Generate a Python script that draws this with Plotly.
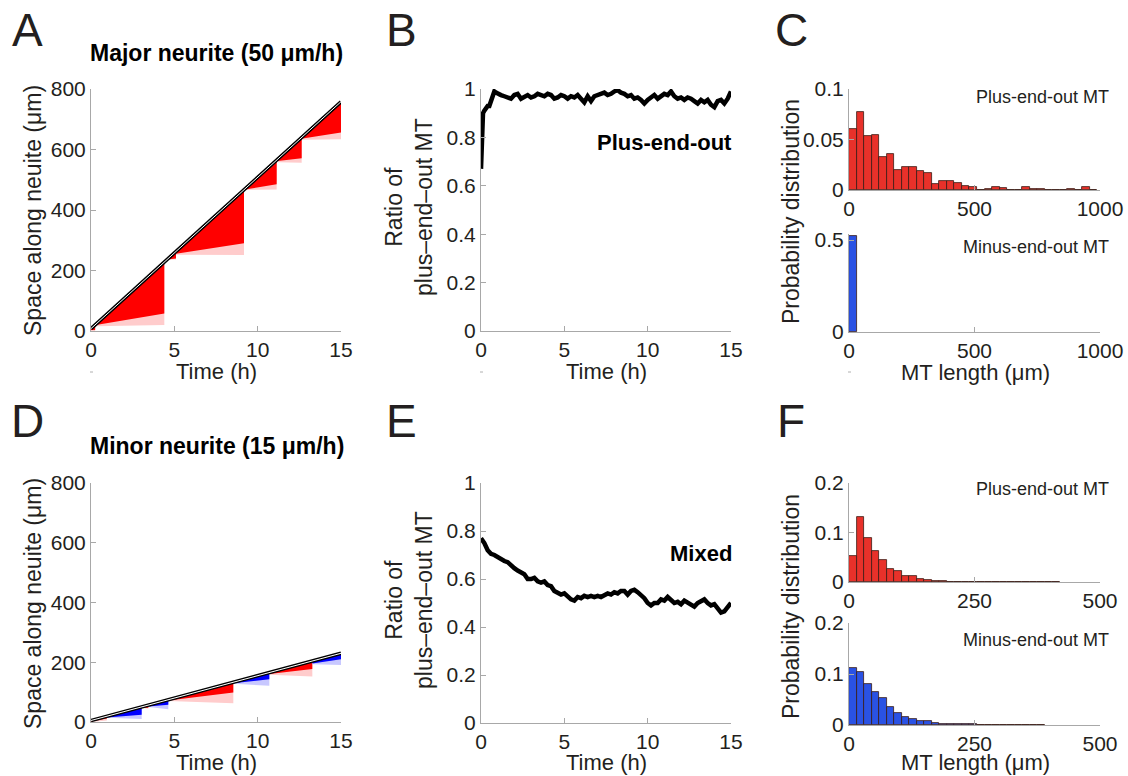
import plotly.graph_objects as go

# ---------------- data ----------------
# Panel A (major neurite): neurite tip line and MT segments
A_TIP_T = [0, 15]
A_TIP_Y = [8, 758]
A_SEG_T0 = [0.0, 0.3, 4.6, 5.1, 9.25, 11.2, 12.7]
A_SEG_T1 = [0.25, 4.4, 5.1, 9.18, 11.14, 12.64, 15.0]
A_SEG_TOP0 = [8, 23, 238, 263, 470, 568, 643]
A_SEG_TOP1 = [20, 228, 263, 467, 565, 640, 758]
A_SEG_DARK0 = [3, 20, 236, 255, 468, 562, 636]
A_SEG_DARK1 = [3, 58, 240, 290, 485, 571, 656]
A_SEG_LIGHT0 = [0, 16, 236, 252, 466, 558, 632]
A_SEG_LIGHT1 = [0, 20, 236, 251, 468, 556, 634]
A_SEG_KIND = ["plus", "plus", "plus", "plus", "plus", "plus", "plus"]

# Panel D (minor neurite)
D_TIP_T = [0, 15]
D_TIP_Y = [5, 230]
D_SEG_T0 = [0.0, 0.95, 3.04, 3.44, 4.64, 8.54, 10.7, 13.28]
D_SEG_T1 = [0.95, 3.04, 3.44, 4.64, 8.54, 10.7, 13.28, 15.0]
D_SEG_TOP0 = [5, 19, 51, 57, 75, 133, 166, 204]
D_SEG_TOP1 = [19, 51, 57, 75, 133, 166, 204, 230]
D_SEG_DARK0 = [2, 15, 48, 52, 72, 130, 161, 196]
D_SEG_DARK1 = [12, 24, 48, 58, 99, 143, 177, 210]
D_SEG_LIGHT0 = [0, 14, 47, 50, 70, 128, 158, 193]
D_SEG_LIGHT1 = [5, 10, 45, 43, 63, 121, 152, 191]
D_SEG_KIND = ["plus", "minus", "plus", "minus", "plus", "minus", "plus", "minus"]

# Panel B: ratio of plus-end-out MT (major neurite)
B_TIME = [0, 0.04, 0.08, 0.12, 0.2, 0.3, 0.4, 0.5, 0.6, 0.7, 0.8, 0.9, 1.0,
          1.2, 1.4, 1.6, 1.8, 2.0, 2.2, 2.4, 2.6, 2.8, 3.0, 3.2, 3.4, 3.6, 3.8,
          4.0, 4.2, 4.4, 4.6, 4.8, 5.0, 5.2, 5.4, 5.6, 5.8, 6.0, 6.2, 6.4, 6.6,
          6.8, 7.0, 7.2, 7.4, 7.6, 7.8, 8.0, 8.2, 8.4, 8.6, 8.8, 9.0, 9.2, 9.4,
          9.6, 9.8, 10.0, 10.2, 10.4, 10.6, 10.8, 11.0, 11.2, 11.4, 11.6, 11.8,
          12.0, 12.2, 12.4, 12.6, 12.8, 13.0, 13.2, 13.4, 13.6, 13.8, 14.0, 14.2,
          14.4, 14.6, 14.8, 15.0]
B_RATIO = [0.67, 0.72, 0.84, 0.90, 0.91, 0.92, 0.93, 0.93, 0.95, 0.975, 0.99, 0.985, 0.98,
           0.975, 0.97, 0.965, 0.96, 0.975, 0.98, 0.96, 0.97, 0.975, 0.965, 0.97, 0.98, 0.975, 0.97,
           0.98, 0.975, 0.96, 0.965, 0.975, 0.97, 0.96, 0.97, 0.965, 0.975, 0.96, 0.945, 0.97, 0.95,
           0.97, 0.975, 0.98, 0.985, 0.975, 0.98, 0.99, 0.995, 0.985, 0.98, 0.97, 0.975, 0.96, 0.965,
           0.955, 0.94, 0.955, 0.965, 0.975, 0.96, 0.97, 0.98, 0.975, 0.99, 0.97, 0.96,
           0.965, 0.955, 0.965, 0.96, 0.95, 0.94, 0.955, 0.945, 0.955, 0.935, 0.925, 0.95,
           0.955, 0.94, 0.96, 0.99]

# Panel E: ratio of plus-end-out MT (minor neurite)
E_TIME = [0.0, 0.2, 0.4, 0.6, 0.8, 1.0, 1.2, 1.4, 1.6, 1.8, 2.0, 2.2, 2.4, 2.6, 2.8,
          3.0, 3.2, 3.4, 3.6, 3.8, 4.0, 4.2, 4.4, 4.6, 4.8, 5.0, 5.2, 5.4, 5.6, 5.8,
          6.0, 6.2, 6.4, 6.6, 6.8, 7.0, 7.2, 7.4, 7.6, 7.8, 8.0, 8.2, 8.4, 8.6, 8.8,
          9.0, 9.2, 9.4, 9.6, 9.8, 10.0, 10.2, 10.4, 10.6, 10.8, 11.0, 11.2, 11.4, 11.6, 11.8,
          12.0, 12.2, 12.4, 12.6, 12.8, 13.0, 13.2, 13.4, 13.6, 13.8, 14.0, 14.2, 14.4, 14.6, 14.8,
          15.0]
E_RATIO = [0.77, 0.75, 0.72, 0.705, 0.70, 0.69, 0.68, 0.675, 0.67, 0.655, 0.645, 0.635, 0.625, 0.62, 0.60,
           0.60, 0.605, 0.59, 0.585, 0.59, 0.575, 0.57, 0.55, 0.54, 0.535, 0.54, 0.525, 0.515, 0.51, 0.525,
           0.52, 0.53, 0.525, 0.53, 0.525, 0.53, 0.525, 0.535, 0.54, 0.535, 0.545, 0.54, 0.55, 0.55, 0.535,
           0.55, 0.555, 0.545, 0.535, 0.52, 0.50, 0.49, 0.50, 0.50, 0.515, 0.51, 0.525, 0.51, 0.50, 0.505,
           0.495, 0.51, 0.50, 0.49, 0.485, 0.50, 0.51, 0.515, 0.50, 0.49, 0.495, 0.475, 0.46, 0.465, 0.48,
           0.50]

# Panel C histograms (major neurite), bin width 30 um
C_BIN_W = 30
C_PLUS = [0.0606, 0.0768, 0.053, 0.0543, 0.0325, 0.0358, 0.0199, 0.0228, 0.0228, 0.0189,
          0.0166, 0.0056, 0.0093, 0.0093, 0.0073, 0.004, 0.0026, 0, 0.001, 0.0026,
          0.0017, 0, 0, 0.0026, 0.0013, 0.0013, 0, 0, 0, 0.001, 0, 0.0026, 0]
C_MINUS = [0.52]

# Panel F histograms (minor neurite), bin width 15 um
F_BIN_W = 15
F_PLUS = [0.052, 0.132, 0.089, 0.062, 0.045, 0.026, 0.022, 0.013, 0.0115, 0.006,
          0.0034, 0.0014, 0.0014, 0.0007, 0.0007, 0.0005, 0.0005, 0.0003, 0.0003, 0.0003,
          0.0002, 0.0002, 0.0002, 0.0001, 0.0002, 0.0001, 0.0001, 0.0001]
F_MINUS = [0.111, 0.104, 0.080, 0.065, 0.052, 0.035, 0.023, 0.016, 0.012, 0.008,
           0.008, 0.003, 0.0026, 0.002, 0.002, 0.0013, 0.0013, 0.0008, 0.0005, 0.0004,
           0.0003, 0.0002, 0.0002, 0.0001, 0.0001, 0.0001]

# ---------------- style / layout ----------------
W, H = 1128, 776
FONT = "Liberation Sans, Arial, Helvetica, sans-serif"
TXT = "#231f20"
AXC = "#a8a8a8"
COL = {"plus": ("#ff0000", "#ffcccc"), "minus": ("#0000ff", "#c8c8ff")}
BAR_RED = "#e8312a"
BAR_BLUE = "#2a52e4"


def fx(p):
    return p / W


def fy(p):
    return 1 - p / H


def axis(dom, rng, tickvals, ticktext, anchor):
    return dict(domain=dom, range=rng, tickvals=tickvals, ticktext=ticktext, anchor=anchor,
                showline=True, linecolor=AXC, linewidth=1, ticks="inside", ticklen=5,
                tickwidth=1, tickcolor=AXC, showgrid=False, zeroline=False, fixedrange=True,
                automargin=False,
                tickfont=dict(family=FONT, size=21, color=TXT))


fig = go.Figure()

# domain pixel boxes: (x0, x1, ytop, ybottom)
boxes = {
    1: (91, 341, 89, 331),     # A
    2: (481, 731, 89, 331),    # B
    3: (849, 1100, 89, 190),   # C top
    4: (849, 1100, 234, 332),  # C bottom
    5: (91, 341, 483, 722),    # D
    6: (481, 731, 483, 723),   # E
    7: (849, 1100, 483, 582),  # F top
    8: (849, 1100, 623, 725),  # F bottom
}
specs = {
    1: ([0, 15], [0, 5, 10, 15], ["0", "5", "10", "15"], [0, 800], [0, 200, 400, 600, 800], ["0", "200", "400", "600", "800"]),
    2: ([0, 15], [0, 5, 10, 15], ["0", "5", "10", "15"], [0, 1], [0, 0.2, 0.4, 0.6, 0.8, 1], ["0", "0.2", "0.4", "0.6", "0.8", "1"]),
    3: ([0, 1000], [0, 500, 1000], ["0", "500", "1000"], [0, 0.1], [0, 0.05, 0.1], ["0", "0.05", "0.1"]),
    4: ([0, 1000], [0, 500, 1000], ["0", "500", "1000"], [0, 0.5326], [0, 0.5], ["0", "0.5"]),
    5: ([0, 15], [0, 5, 10, 15], ["0", "5", "10", "15"], [0, 800], [0, 200, 400, 600, 800], ["0", "200", "400", "600", "800"]),
    6: ([0, 15], [0, 5, 10, 15], ["0", "5", "10", "15"], [0, 1], [0, 0.2, 0.4, 0.6, 0.8, 1], ["0", "0.2", "0.4", "0.6", "0.8", "1"]),
    7: ([0, 500], [0, 250, 500], ["0", "250", "500"], [0, 0.2], [0, 0.1, 0.2], ["0", "0.1", "0.2"]),
    8: ([0, 500], [0, 250, 500], ["0", "250", "500"], [0, 0.2], [0, 0.1, 0.2], ["0", "0.1", "0.2"]),
}
layout_axes = {}
for i, (x0, x1, yt, yb) in boxes.items():
    xr, xtv, xtt, yr, ytv, ytt = specs[i]
    sfx = "" if i == 1 else str(i)
    layout_axes["xaxis" + sfx] = axis([fx(x0), fx(x1)], xr, xtv, xtt, "y" + sfx)
    layout_axes["yaxis" + sfx] = axis([fy(yb), fy(yt)], yr, ytv, ytt, "x" + sfx)


def neurite(n, tip_t, tip_y, t0s, t1s, top0, top1, d0, d1, l0, l1, kinds):
    xa = "x" if n == 1 else "x%d" % n
    ya = "y" if n == 1 else "y%d" % n
    for k in range(len(t0s)):
        dark, light = COL[kinds[k]]
        fig.add_trace(go.Scatter(x=[t0s[k], t1s[k], t1s[k], t0s[k], t0s[k]],
                                 y=[top0[k], top1[k], l1[k], l0[k], top0[k]],
                                 fill="toself", fillcolor=light, mode="none",
                                 xaxis=xa, yaxis=ya, hoverinfo="skip"))
        fig.add_trace(go.Scatter(x=[t0s[k], t1s[k], t1s[k], t0s[k], t0s[k]],
                                 y=[top0[k], top1[k], d1[k], d0[k], top0[k]],
                                 fill="toself", fillcolor=dark, mode="none",
                                 xaxis=xa, yaxis=ya, hoverinfo="skip"))
    fig.add_trace(go.Scatter(x=tip_t, y=tip_y, mode="lines", line=dict(color="black", width=3.6),
                             xaxis=xa, yaxis=ya, hoverinfo="skip", cliponaxis=False))
    fig.add_trace(go.Scatter(x=tip_t, y=tip_y, mode="lines", line=dict(color="white", width=1.0),
                             xaxis=xa, yaxis=ya, hoverinfo="skip", cliponaxis=False))


neurite(1, A_TIP_T, A_TIP_Y, A_SEG_T0, A_SEG_T1, A_SEG_TOP0, A_SEG_TOP1,
        A_SEG_DARK0, A_SEG_DARK1, A_SEG_LIGHT0, A_SEG_LIGHT1, A_SEG_KIND)
neurite(5, D_TIP_T, D_TIP_Y, D_SEG_T0, D_SEG_T1, D_SEG_TOP0, D_SEG_TOP1,
        D_SEG_DARK0, D_SEG_DARK1, D_SEG_LIGHT0, D_SEG_LIGHT1, D_SEG_KIND)

fig.add_trace(go.Scatter(x=B_TIME, y=B_RATIO, mode="lines", line=dict(color="black", width=4.5),
                         xaxis="x2", yaxis="y2", hoverinfo="skip"))
fig.add_trace(go.Scatter(x=E_TIME, y=E_RATIO, mode="lines", line=dict(color="black", width=4.5),
                         xaxis="x6", yaxis="y6", hoverinfo="skip"))


def hist(n, vals, bw, color):
    centers = [bw * (i + 0.5) for i in range(len(vals))]
    fig.add_trace(go.Bar(x=centers, y=vals, width=bw, marker=dict(color=color, line=dict(color="#3a1a14", width=0.8)),
                         xaxis="x%d" % n, yaxis="y%d" % n, hoverinfo="skip"))


hist(3, C_PLUS, C_BIN_W, BAR_RED)
hist(4, C_MINUS, C_BIN_W, BAR_BLUE)
hist(7, F_PLUS, F_BIN_W, BAR_RED)
hist(8, F_MINUS, F_BIN_W, BAR_BLUE)

ann = []


def text(s, x, y, size, bold=False, angle=0, xanchor="center"):
    if bold:
        s = "<b>" + s + "</b>"
    ann.append(dict(text=s, x=fx(x), y=fy(y), xref="paper", yref="paper", showarrow=False,
                    xanchor=xanchor, yanchor="middle", textangle=angle,
                    font=dict(family=FONT, size=size, color="black" if bold else TXT)))


# panel letters
for letter, x, y in [("A", 27, 30), ("B", 401, 30), ("C", 791, 30),
                     ("D", 27, 421), ("E", 401, 421), ("F", 791, 421)]:
    text(letter, x, y, 46)

text("Major neurite (50 μm/h)", 217, 53, 23, bold=True)
text("Minor neurite (15 μm/h)", 217, 446, 23, bold=True)

text("Space along neuite (μm)", 33, 211, 23, angle=-90)
text("Space along neuite (μm)", 33, 604, 23, angle=-90)
text("Ratio of<br>plus–end–out MT", 409, 207, 23, angle=-90)
text("Ratio of<br>plus–end–out MT", 409, 600, 23, angle=-90)
text("Probability distribution", 791, 212, 23, angle=-90)
text("Probability distribution", 791, 607, 23, angle=-90)

text("Time (h)", 217, 371, 22)
text("Time (h)", 606, 371, 22)
text("Time (h)", 217, 762, 22)
text("Time (h)", 606, 762, 22)
text("MT length (μm)", 975, 372, 22)
text("MT length (μm)", 975, 762, 22)

text("Plus-end-out", 734, 142, 22, bold=True, xanchor="right")
text("Mixed", 734, 553, 22, bold=True, xanchor="right")

text("Plus-end-out MT", 1111, 97, 18, xanchor="right")
text("Minus-end-out MT", 1111, 247, 18, xanchor="right")
text("Plus-end-out MT", 1111, 489, 18, xanchor="right")
text("Minus-end-out MT", 1111, 640, 18, xanchor="right")

shapes = []
for x in [91, 481, 849]:
    shapes.append(dict(type="line", xref="paper", yref="paper", x0=fx(x - 1), x1=fx(x + 2),
                       y0=fy(372), y1=fy(372), line=dict(color="#b0b0b0", width=1)))

fig.update_layout(width=W, height=H, margin=dict(l=0, r=0, t=0, b=0, autoexpand=False),
                  paper_bgcolor="white", plot_bgcolor="white", showlegend=False,
                  annotations=ann, shapes=shapes, barmode="overlay", bargap=0,
                  **layout_axes)

fig.write_html("out.html", config={"displayModeBar": False},
               post_script="document.body.style.margin='0px';document.body.style.padding='0px';"
                           "document.body.style.overflow='hidden';")
